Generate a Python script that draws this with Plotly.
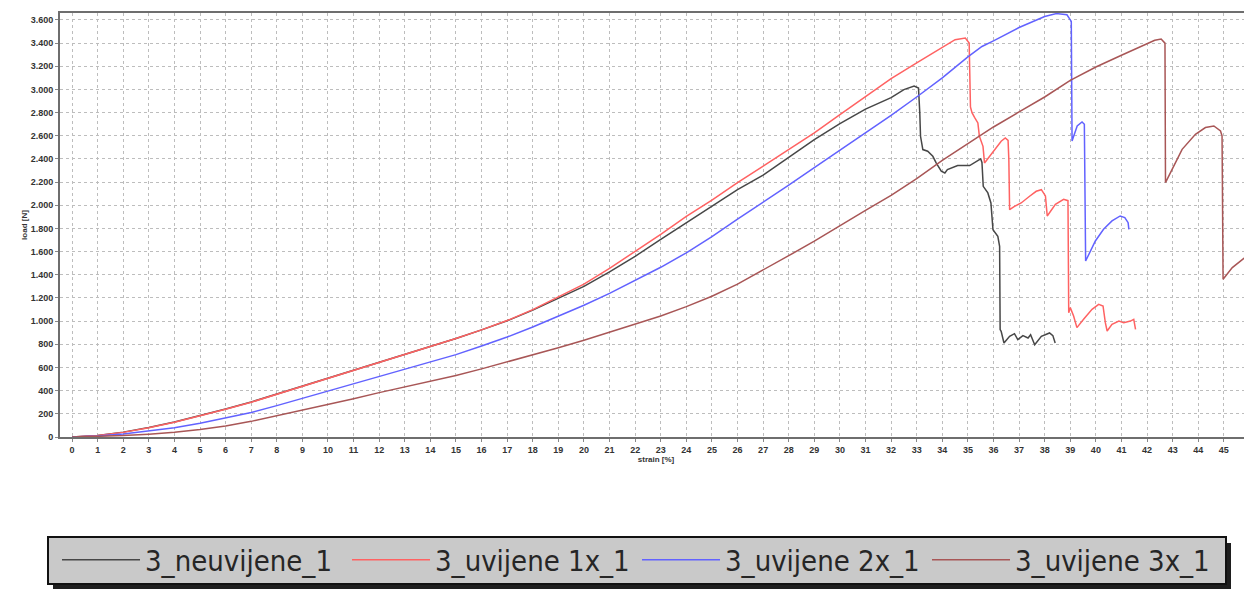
import plotly.graph_objects as go

# ---------------- data ----------------
names = ["3_neuvijene_1", "3_uvijene 1x_1", "3_uvijene 2x_1", "3_uvijene 3x_1"]

strain_0 = [0,1,2,3,4,5,6,7,8,9,10,11,12,13,14,15,16,17,18,19,20,21,22,23,24,25,26,27,28,29,30,31,32,
            32.5,32.9,33.07,33.12,33.15,33.24,33.43,33.63,33.76,33.96,34.1,34.2,34.6,35.07,35.33,35.5,35.55,
            35.6,35.78,35.9,35.98,36.17,36.24,36.26,36.3,36.41,36.63,36.82,36.95,37.15,37.35,37.45,37.61,
            37.87,38.19,38.32,38.41]
load_0 = [0,12,42,82,130,185,242,302,370,437,506,575,645,712,780,850,925,1003,1095,1195,1300,1425,1560,1705,
          1850,1990,2135,2260,2410,2567,2705,2830,2930,
          2999,3030,3013,2800,2596,2481,2467,2423,2366,2294,2279,2308,2343,2343,2380,2400,2370,
          2164,2107,2020,1790,1732,1646,927,912,811,869,892,840,875,855,883,797,
          869,898,875,811]

strain_1 = [0,1,2,3,4,5,6,7,8,9,10,11,12,13,14,15,16,17,18,19,20,21,22,23,24,25,26,27,28,29,30,31,32,33,34,
            34.5,34.9,35.05,35.1,35.16,35.26,35.39,35.45,35.59,35.65,35.75,36.04,36.3,36.46,36.57,36.6,36.62,
            36.63,36.82,37.08,37.41,37.67,37.87,38.03,38.1,38.42,38.74,38.91,38.94,39.0,39.13,39.26,39.52,
            39.85,40.11,40.28,40.37,40.44,40.63,40.9,41.09,41.35,41.48,41.55]
load_1 = [0,12,40,80,128,183,240,300,369,437,506,575,646,712,780,850,925,1005,1100,1210,1320,1455,1600,1750,
          1905,2045,2195,2337,2481,2625,2783,2940,3094,3230,3360,
          3430,3444,3400,2850,2800,2760,2711,2596,2509,2365,2394,2481,2553,2581,2560,2394,1991,
          1962,1991,2020,2078,2121,2135,2081,1908,2009,2052,2040,1073,1117,1045,944,1016,
          1102,1145,1131,987,915,973,1001,987,1001,1016,930]

strain_2 = [0,1,2,3,4,5,6,7,8,9,10,11,12,13,14,15,16,17,18,19,20,21,22,23,24,25,26,27,28,29,30,31,32,33,34,35,
            35.55,36,36.84,37,38,38.46,38.87,39.04,39.07,39.27,39.46,39.55,39.6,39.73,39.98,40.3,40.63,40.95,
            41.13,41.26,41.29]
load_2 = [0,8,25,50,80,118,165,211,271,334,397,460,523,583,646,711,785,863,950,1040,1137,1240,1350,1465,1590,
          1730,1880,2025,2175,2325,2475,2620,2777,2935,3100,3281,
          3371,3420,3515,3535,3630,3655,3645,3587,2555,2685,2719,2700,1519,1577,1692,1793,1865,1908,
          1894,1850,1793]

strain_3 = [0,1,2,3,4,5,6,7,8,9,10,11,12,13,14,15,16,17,18,19,20,21,22,23,24,25,26,27,28,29,30,31,32,33,34,35,
            36,37,38,39,40,41,42,42.3,42.55,42.7,42.72,42.98,43.37,43.89,44.28,44.61,44.87,44.93,44.97,45.33,
            45.72,45.9,46.0,46.02]
load_3 = [0,4,12,24,40,64,95,135,183,231,283,331,383,431,480,531,588,647,705,770,835,905,975,1045,1125,1215,
          1320,1440,1565,1690,1825,1957,2086,2230,2388,2532,2676,2806,2935,3079,3194,3295,3396,3424,3436,
          3400,2196,2311,2483,2613,2671,2685,2642,2599,1361,1462,1534,1563,1520,1131]

x_ticks = list(range(0, 47))
y_ticks = list(range(0, 3601, 200))

colors = ["#474747", "#ff6262", "#6262ff", "#a85656"]

# ---------------- layout geometry ----------------
# the page body adds an 8px offset, so the figure is 8px smaller and all
# screen positions are shifted by OFF
OFF = 8
W, H = 1252 - OFF, 589 - OFF
L, R, T, B = 60 - OFF, 0, 13 - OFF, 589 - 437
pw, ph = W - L - R, H - T - B


def px_x(sx):
    return (sx - OFF - L) / pw


def px_y(sy):
    return (H - B - (sy - OFF)) / ph


fig = go.Figure()
series = [(strain_0, load_0), (strain_1, load_1), (strain_2, load_2), (strain_3, load_3)]
for (xs, ys), nm, c in zip(series, names, colors):
    fig.add_trace(go.Scatter(x=xs, y=ys, mode="lines", name=nm,
                             line=dict(color=c, width=1.5)))

tickfont = dict(family="Liberation Sans, Arial, sans-serif", size=9, color="#333333", weight="bold")

fig.update_layout(
    width=W, height=H,
    margin=dict(l=L, r=R, t=T, b=B, autoexpand=False),
    paper_bgcolor="white", plot_bgcolor="white",
    separators=",.",
    showlegend=True,
    legend=dict(orientation="h", x=px_x(57), xanchor="left", y=px_y(560), yanchor="middle",
                bgcolor="rgba(0,0,0,0)", borderwidth=0,
                font=dict(family="Liberation Sans Narrow, DejaVu Sans Condensed, Liberation Sans, sans-serif",
                          size=29, color="#262626"),
                itemwidth=78, entrywidth=197, entrywidthmode="pixels",
                tracegroupgap=0),
    xaxis=dict(range=[-0.47, 46.1], tickmode="array", tickvals=x_ticks,
               ticktext=[str(v) for v in x_ticks], automargin=False,
               ticklabeloverflow="allow",
               showgrid=True, gridcolor="#bdbdbd", griddash="dot", gridwidth=1,
               showline=True, linecolor="#6e6e6e", linewidth=2, mirror=True,
               ticks="outside", ticklen=3, tickcolor="#888888",
               tickfont=tickfont, zeroline=False,
               title=dict(text="strain [%]", font=dict(family="Liberation Sans", size=8,
                                                        color="#333333", weight="bold"), standoff=2)),
    yaxis=dict(range=[0, 3660], tickmode="array", tickvals=y_ticks, tickformat=",",
               automargin=False,
               showgrid=True, gridcolor="#bdbdbd", griddash="dot", gridwidth=1,
               showline=True, linecolor="#6e6e6e", linewidth=2, mirror=False,
               ticks="outside", ticklen=3, tickcolor="#888888",
               tickfont=tickfont, zeroline=False,
               title=dict(text="load [N]", font=dict(family="Liberation Sans", size=8,
                                                      color="#333333", weight="bold"), standoff=2)),
    shapes=[
        dict(type="rect", xref="paper", yref="paper", layer="above",
             x0=px_x(53), x1=px_x(1231), y0=px_y(543), y1=px_y(589),
             fillcolor="#1e1e1e", line=dict(width=0)),
        dict(type="rect", xref="paper", yref="paper", layer="above",
             x0=px_x(48), x1=px_x(1226), y0=px_y(537), y1=px_y(584),
             fillcolor="#c9c9c9", line=dict(color="#111111", width=2)),
    ],
)

fig.write_html("out.html")
